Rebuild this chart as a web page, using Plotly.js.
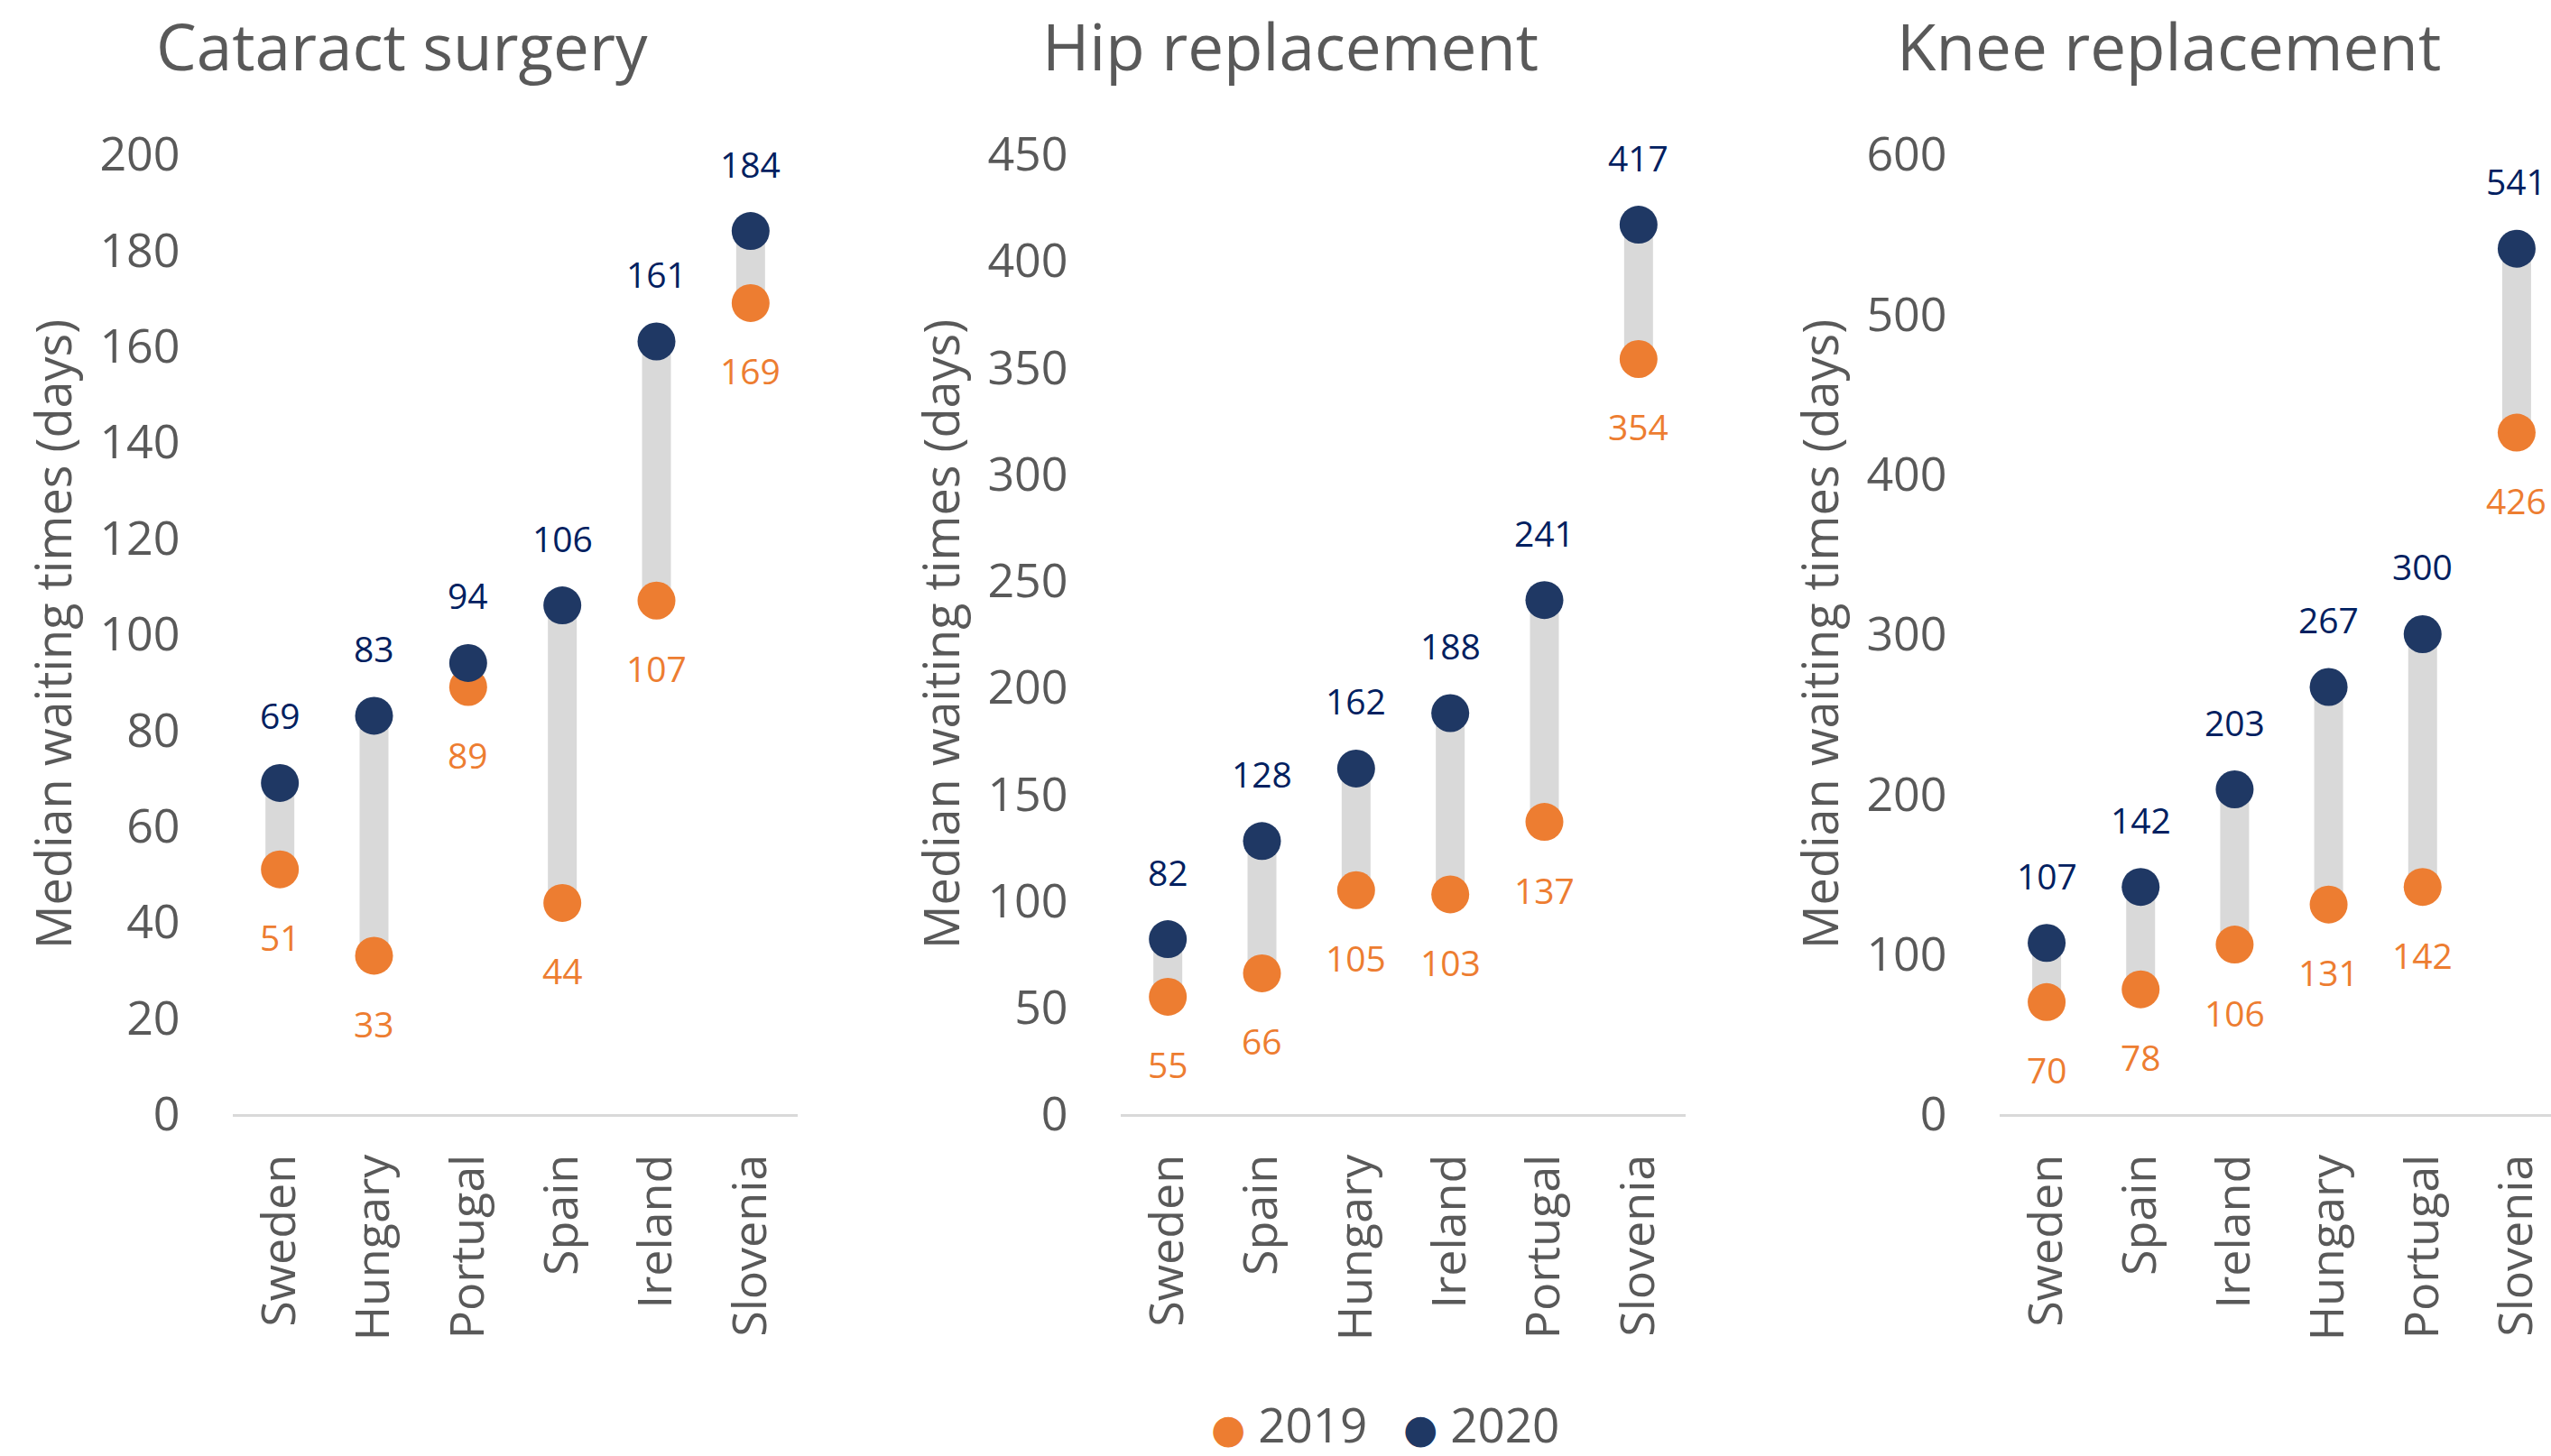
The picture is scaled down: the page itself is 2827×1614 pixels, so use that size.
<!DOCTYPE html>
<html>
<head>
<meta charset="utf-8">
<script src="https://cdn.plot.ly/plotly-3.0.1.min.js"></script>
<style>
  html, body { margin: 0; padding: 0; background: #ffffff; overflow: hidden; }
  #chart { width: 2850px; height: 1614px; }
</style>
</head>
<body>
<div id="chart"></div>
<script>
// Median waiting times (days) for three procedures, 2019 vs 2020

// Cataract surgery
const cataractCountries = ['Sweden', 'Hungary', 'Portugal', 'Spain', 'Ireland', 'Slovenia'];
const cataract2019 = [51, 33, 89, 44, 107, 169];
const cataract2020 = [69, 83, 94, 106, 161, 184];

// Hip replacement
const hipCountries = ['Sweden', 'Spain', 'Hungary', 'Ireland', 'Portugal', 'Slovenia'];
const hip2019 = [55, 66, 105, 103, 137, 354];
const hip2020 = [82, 128, 162, 188, 241, 417];

// Knee replacement
const kneeCountries = ['Sweden', 'Spain', 'Ireland', 'Hungary', 'Portugal', 'Slovenia'];
const knee2019 = [70, 78, 106, 131, 142, 426];
const knee2020 = [107, 142, 203, 267, 300, 541];

const seriesNames = ['2019', '2020'];
const yAxisTitle = 'Median waiting times (days)';

// ---- layout / style ----
const W = 2850, H = 1614;
const FONT = '"Open Sans", "Noto Sans", "DejaVu Sans", sans-serif';
const GREY_TEXT = '#595959';
const ORANGE = '#ED7D31';
const NAVY = '#1F3864';
const NAVY_LABEL = '#002060';
const CONNECTOR = '#D9D9D9';
const PLOT_TOP = 171, PLOT_BOTTOM = 1235;   // pixel rows of the value range
const MARKER = 42;
const LABEL_SHIFT = 75;

const panels = [
  { title: 'Cataract surgery', countries: cataractCountries, a: cataract2019, b: cataract2020,
    yMax: 200, dtick: 20, left: 258, right: 884, titleX: 445 },
  { title: 'Hip replacement', countries: hipCountries, a: hip2019, b: hip2020,
    yMax: 450, dtick: 50, left: 1242, right: 1868, titleX: 1430 },
  { title: 'Knee replacement', countries: kneeCountries, a: knee2019, b: knee2020,
    yMax: 600, dtick: 100, left: 2216, right: 2841, titleX: 2403 }
];

const traces = [];
const annotations = [];
const layout = {
  width: W, height: H,
  margin: { l: 0, r: 0, t: 0, b: 0 },
  paper_bgcolor: '#ffffff', plot_bgcolor: '#ffffff',
  showlegend: false,
  font: { family: FONT, color: GREY_TEXT },
  annotations: annotations
};

panels.forEach((p, i) => {
  const s = i === 0 ? '' : String(i + 1);
  const xa = 'x' + s, ya = 'y' + s;

  // grey connector between the two years
  const cx = [], cy = [];
  p.countries.forEach((c, j) => { cx.push(c, c, null); cy.push(p.a[j], p.b[j], null); });
  traces.push({
    type: 'scatter', mode: 'lines', x: cx, y: cy, xaxis: xa, yaxis: ya,
    line: { color: CONNECTOR, width: 32 }, hoverinfo: 'skip', connectgaps: false
  });

  traces.push({
    type: 'scatter', mode: 'markers', name: seriesNames[0], x: p.countries, y: p.a,
    xaxis: xa, yaxis: ya, marker: { color: ORANGE, size: MARKER }
  });
  traces.push({
    type: 'scatter', mode: 'markers', name: seriesNames[1], x: p.countries, y: p.b,
    xaxis: xa, yaxis: ya, marker: { color: NAVY, size: MARKER }
  });

  // value labels: 2019 below, 2020 above
  p.countries.forEach((c, j) => {
    annotations.push({ xref: xa, yref: ya, x: c, y: p.a[j], text: String(p.a[j]),
      yshift: -LABEL_SHIFT, showarrow: false, font: { size: 39, color: ORANGE, family: FONT } });
    annotations.push({ xref: xa, yref: ya, x: c, y: p.b[j], text: String(p.b[j]),
      yshift: LABEL_SHIFT, showarrow: false, font: { size: 39, color: NAVY_LABEL, family: FONT } });
  });

  layout['xaxis' + s] = {
    domain: [p.left / W, Math.min(p.right / W, 1)], anchor: ya, type: 'category',
    range: [-0.5, 5.5], showgrid: false, zeroline: false,
    showline: true, linecolor: CONNECTOR, linewidth: 3,
    ticks: 'outside', ticklen: 21, tickcolor: 'rgba(0,0,0,0)', tickangle: -90,
    tickfont: { size: 52, color: GREY_TEXT, family: FONT }, fixedrange: true
  };
  layout['yaxis' + s] = {
    domain: [(H - PLOT_BOTTOM) / H, (H - PLOT_TOP) / H], anchor: xa,
    range: [0, p.yMax], tick0: 0, dtick: p.dtick,
    showgrid: false, zeroline: false, showline: false,
    ticks: 'outside', ticklen: 47, tickcolor: 'rgba(0,0,0,0)',
    tickfont: { size: 52, color: GREY_TEXT, family: FONT }, fixedrange: true
  };

  // axis title
  annotations.push({ xref: xa + ' domain', yref: ya + ' domain', x: 0, y: 0.5, xshift: -200,
    xanchor: 'center', yanchor: 'middle', textangle: -90, showarrow: false,
    text: yAxisTitle, font: { size: 54, color: GREY_TEXT, family: FONT } });

  // panel title
  annotations.push({ xref: 'paper', yref: 'paper', x: p.titleX / W, y: 1 - 50 / H,
    xanchor: 'center', yanchor: 'middle', showarrow: false,
    text: p.title, font: { size: 71, color: GREY_TEXT, family: FONT } });
});

// legend
const legendItems = [
  { name: seriesNames[0], color: ORANGE, left: 1340 },
  { name: seriesNames[1], color: NAVY, left: 1553 }
];
legendItems.forEach(it => {
  annotations.push({ xref: 'paper', yref: 'paper', x: it.left / W, y: 1 - 1578 / H,
    xanchor: 'left', yanchor: 'middle', showarrow: false,
    text: '<span style="color:' + it.color + ';font-size:44px">●</span> ' + it.name,
    font: { size: 53, color: GREY_TEXT, family: FONT } });
});

Plotly.newPlot('chart', traces, layout, { staticPlot: true, displayModeBar: false });
</script>
</body>
</html>
